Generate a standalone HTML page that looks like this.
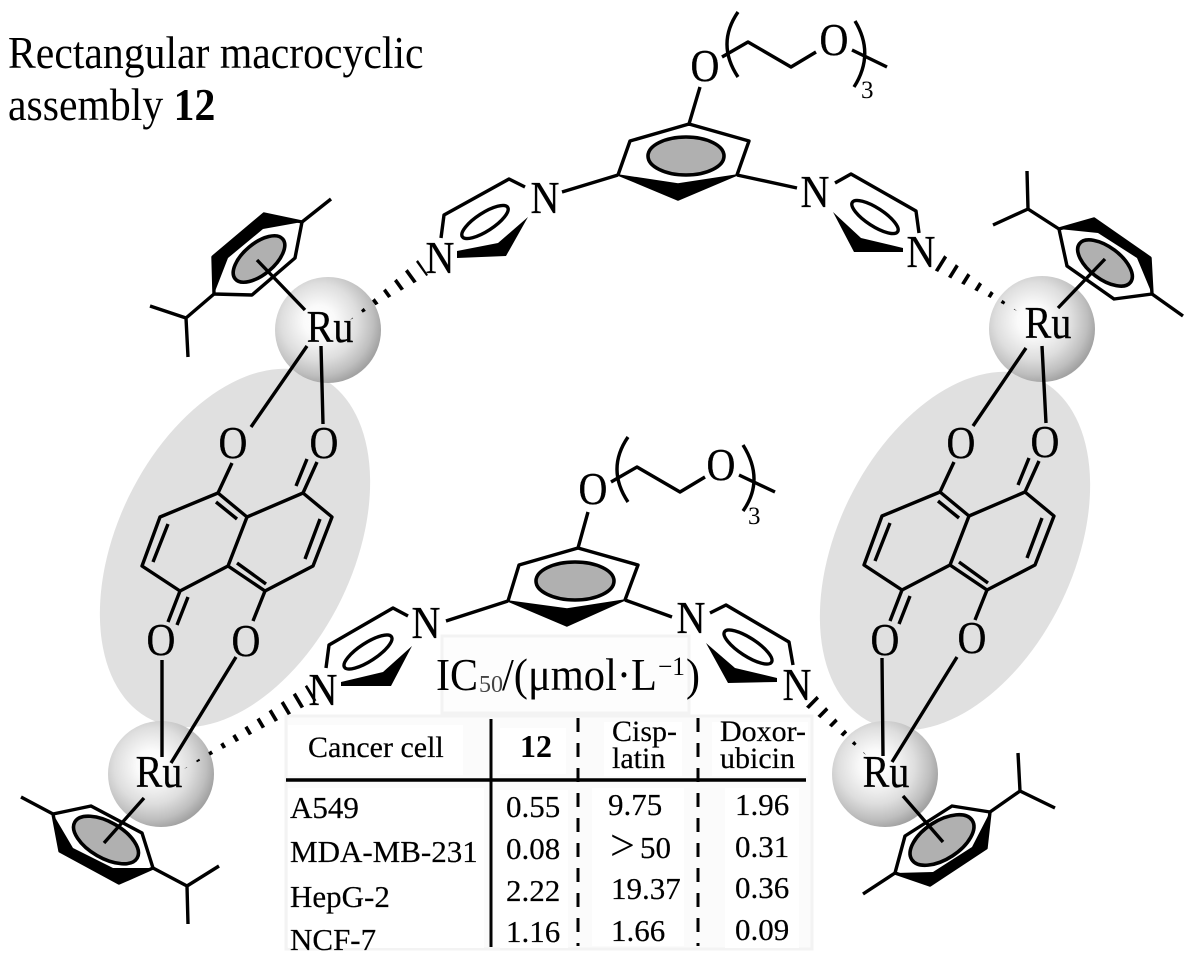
<!DOCTYPE html>
<html>
<head>
<meta charset="utf-8">
<title>Rectangular macrocyclic assembly 12</title>
<style>
html,body{margin:0;padding:0;background:#fff;}
svg{display:block;}
text{font-family:"Liberation Serif","DejaVu Serif",serif;fill:#000;}
.a{font-size:40px;text-anchor:middle;stroke:#000;stroke-width:.3;}
.t{font-size:30px;stroke:#000;stroke-width:.2;}
.v{font-size:31px;stroke:#000;stroke-width:.2;}
.l{fill:none;stroke:#000;stroke-width:3.4;stroke-linejoin:round;stroke-linecap:butt;}
.g{fill:#b0b0b0;stroke:#000;stroke-width:3.6;}
.w{fill:#fff;stroke:#000;stroke-width:3.4;}
.h{fill:none;stroke:#000;stroke-width:26;stroke-dasharray:3.6 11;}
</style>
</head>
<body>
<svg width="1193" height="963" viewBox="0 0 1193 963" xmlns="http://www.w3.org/2000/svg">
<defs>
<radialGradient id="s" cx="0.42" cy="0.42" r="0.6">
<stop offset="0" stop-color="#ffffff"/>
<stop offset="0.25" stop-color="#fafafa"/>
<stop offset="0.6" stop-color="#dedede"/>
<stop offset="0.85" stop-color="#bebebe"/>
<stop offset="1" stop-color="#a2a2a2"/>
</radialGradient>
<clipPath id="c1"><polygon points="184,769 317,700 307,685"/></clipPath>
<clipPath id="c2"><polygon points="350,320 428,275 418,260"/></clipPath>
<clipPath id="c3"><polygon points="1017,311 940,252 930,268"/></clipPath>
<clipPath id="c4"><polygon points="866,755 811,689 799,701"/></clipPath>
</defs>
<rect width="1193" height="963" fill="#fff"/>

<!-- grey ellipses -->
<ellipse cx="235" cy="548" rx="118" ry="191" transform="rotate(26 235 548)" fill="#e0e0e0"/>
<ellipse cx="955" cy="551" rx="118" ry="191" transform="rotate(26 955 551)" fill="#e0e0e0"/>

<!-- spheres -->
<circle cx="328" cy="330" r="53" fill="url(#s)"/>
<circle cx="1042" cy="329" r="53" fill="url(#s)"/>
<circle cx="161" cy="774" r="53" fill="url(#s)"/>
<circle cx="885" cy="774" r="53" fill="url(#s)"/>

<!-- table backgrounds -->
<rect x="442" y="636" width="247" height="77" fill="#fdfdfd" stroke="#f3f3f3" stroke-width="3"/>
<rect x="286" y="716" width="526" height="233" fill="#fbfbfb" stroke="#f3f3f3" stroke-width="3"/>
<rect x="288" y="725" width="175" height="50" fill="#fff"/>
<rect x="500" y="728" width="66" height="46" fill="#fff"/>
<rect x="604" y="722" width="78" height="54" fill="#fff"/>
<rect x="712" y="722" width="96" height="54" fill="#fff"/>
<rect x="288" y="788" width="196" height="160" fill="#fff"/>
<rect x="500" y="790" width="68" height="158" fill="#fff"/>
<rect x="592" y="788" width="92" height="158" fill="#fff"/>
<rect x="725" y="788" width="74" height="160" fill="#fff"/>

<!-- top bridging ligand -->
<polyline class="l" points="618,175 630,141 689,124 749,141 737,175"/>
<polygon points="618,175 678,184 737,175 678,200" fill="#000" stroke="#000" stroke-width="1.5" stroke-linejoin="round"/>
<ellipse class="g" cx="686" cy="156" rx="38" ry="19"/>
<path class="l" d="M700,87 L689,124 M618,175 L562,192 M737,175 L797,188"/>
<path class="l" d="M722,57 L748,42 L791,67 L816,52 M852,50 L887,67"/>
<path class="l" d="M738,12 Q716,44 738,77 M855,21 Q875,54 854,87"/>
<text class="a" transform="translate(705,81) scale(1,1.15)">O</text>
<text class="a" transform="translate(834,55) scale(1,1.15)">O</text>
<text x="861" y="98" font-size="25">3</text>

<path class="l" d="M525,187 L509,179 L444,215 L441,238"/>
<polygon points="457,251 498,243 528,217 506,256 457,258" fill="#000"/>
<ellipse class="w" cx="485" cy="222" rx="27" ry="9" transform="rotate(-33 485 222)"/>
<text class="a" transform="translate(545,213) scale(1,1.15)">N</text>
<text class="a" transform="translate(440,273) scale(1,1.15)">N</text>

<path class="l" d="M835,183 L851,174 L916,211 L919,233"/>
<polygon points="833,212 861,238 903,248 903,252 854,252" fill="#000"/>
<ellipse class="w" cx="875" cy="217" rx="27" ry="9" transform="rotate(33 875 217)"/>
<text class="a" transform="translate(815,207) scale(1,1.15)">N</text>
<text class="a" transform="translate(921,267) scale(1,1.15)">N</text>

<!-- bottom bridging ligand -->
<polyline class="l" points="508,601 519,565 578,548 638,565 625,600"/>
<polygon points="508,601 567,609 625,600 567,626" fill="#000" stroke="#000" stroke-width="1.5" stroke-linejoin="round"/>
<ellipse class="g" cx="575" cy="581" rx="39" ry="19"/>
<path class="l" d="M588,512 L578,548 M508,601 L446,621 M625,600 L672,617"/>
<path class="l" d="M611,482 L637,467 L680,492 L705,477 M739,475 L775,492"/>
<path class="l" d="M628,437 Q606,469 628,502 M743,445 Q765,480 743,511"/>
<text class="a" transform="translate(593,504) scale(1,1.15)">O</text>
<text class="a" transform="translate(721,480) scale(1,1.15)">O</text>
<text x="748" y="524" font-size="25">3</text>

<path class="l" d="M408,616 L393,608 L329,645 L326,668"/>
<polygon points="341,682 383,672 412,646 391,686 341,686" fill="#000"/>
<ellipse class="w" cx="368" cy="652" rx="28" ry="9" transform="rotate(-33 368 652)"/>
<text class="a" transform="translate(426,638) scale(1,1.15)">N</text>
<text class="a" transform="translate(323,705) scale(1,1.15)">N</text>

<path class="l" d="M710,613 L726,605 L789,642 L793,665"/>
<polygon points="706,643 735,668 777,678 777,682 728,683" fill="#000"/>
<ellipse class="w" cx="748" cy="647" rx="28" ry="9" transform="rotate(33 748 647)"/>
<text class="a" transform="translate(691,633) scale(1,1.15)">N</text>
<text class="a" transform="translate(797,700) scale(1,1.15)">N</text>

<!-- left quinone -->
<g>
<polygon class="l" points="218,493 160,517 142,566 180,591 228,566 247,517"/>
<path class="l" d="M247,517 L303,493 L332,517 L313,566 L265,591 L228,566"/>
<path class="l" d="M168,524 L153,562 M320,519 L305,559 M216,502 L237,519 M237,563 L266,584"/>
<path class="l" d="M232,463 L218,493 M303,493 L317,462 M296,486 L307,459 M180,591 L168,622 M188,597 L177,625 M265,591 L253,621"/>
</g>
<!-- right quinone -->
<g transform="translate(722,-1)">
<polygon class="l" points="218,493 160,517 142,566 180,591 228,566 247,517"/>
<path class="l" d="M247,517 L303,493 L332,517 L313,566 L265,591 L228,566"/>
<path class="l" d="M168,524 L153,562 M320,519 L305,559 M216,502 L237,519 M237,563 L266,584"/>
<path class="l" d="M232,463 L218,493 M303,493 L317,462 M296,486 L307,459 M180,591 L168,622 M188,597 L177,625 M265,591 L253,621"/>
</g>
<text class="a" transform="translate(233,458) scale(1,1.15)">O</text>
<text class="a" transform="translate(324,458) scale(1,1.15)">O</text>
<text class="a" transform="translate(161,655) scale(1,1.15)">O</text>
<text class="a" transform="translate(246,656) scale(1,1.15)">O</text>
<text class="a" transform="translate(961,458) scale(1,1.15)">O</text>
<text class="a" transform="translate(1045,457) scale(1,1.15)">O</text>
<text class="a" transform="translate(885,655) scale(1,1.15)">O</text>
<text class="a" transform="translate(972,653) scale(1,1.15)">O</text>

<!-- Ru–O bonds -->
<path class="l" d="M307,346 L251,427 M321,346 L323,424"/>
<path class="l" d="M1026,348 L973,426 M1042,346 L1046,423"/>
<path class="l" d="M162,660 L162,757 M236,657 L171,763"/>
<path class="l" d="M882,658 L883,756 M957,657 L892,762"/>

<!-- cymene top-left -->
<polygon class="l" points="302,222 295,258 252,295 214,294 213,257 264,214"/>
<polygon points="214,294 228,258 263,229 302,222 264,214 213,257" fill="#000"/>
<ellipse class="g" cx="259" cy="259" rx="31" ry="15.5" transform="rotate(-40 259 259)"/>
<path class="l" d="M302,222 L331,199 M214,294 L186,318 L150,306 M186,318 L188,357 M257,260 L305,310"/>

<!-- cymene top-right -->
<polygon class="l" points="1059,229 1094,219 1150,258 1152,294 1114,299 1067,266"/>
<polygon points="1059,229 1098,233 1137,258 1152,294 1150,258 1094,219" fill="#000"/>
<ellipse class="g" cx="1105" cy="263" rx="32" ry="16" transform="rotate(37 1105 263)"/>
<path class="l" d="M1152,294 L1183,316 M1059,229 L1028,209 L1027,171 M1028,209 L993,225 M1105,259 L1058,308"/>

<!-- cymene bottom-left -->
<polygon class="l" points="53,814 91,806 142,833 153,868 119,883 60,851"/>
<polygon points="53,814 73,848 113,868 153,868 119,883 60,851" fill="#000"/>
<ellipse class="g" cx="106" cy="840" rx="36" ry="18" transform="rotate(30 106 840)"/>
<path class="l" d="M53,814 L21,797 M153,868 L187,886 L219,866 M187,886 L188,924 M144,798 L104,843"/>

<!-- cymene bottom-right -->
<polygon class="l" points="895,873 905,836 952,806 990,812 986,848 930,885"/>
<polygon points="895,873 933,872 972,847 990,812 986,848 930,885" fill="#000"/>
<ellipse class="g" cx="942" cy="840" rx="36" ry="19" transform="rotate(-33 942 840)"/>
<path class="l" d="M895,873 L863,894 M990,812 L1020,791 L1018,753 M1020,791 L1055,808 M903,796 L943,842"/>

<!-- hashed bonds -->
<g clip-path="url(#c1)"><line class="h" x1="184" y1="769" x2="312" y2="693"/></g>
<g clip-path="url(#c2)"><line class="h" x1="350" y1="320" x2="423" y2="267"/></g>
<g clip-path="url(#c3)"><line class="h" x1="1017" y1="311" x2="935" y2="260"/></g>
<g clip-path="url(#c4)"><line class="h" x1="866" y1="755" x2="805" y2="695"/></g>

<!-- Ru labels -->
<text class="a" transform="translate(330,342) scale(1,1.15)">Ru</text>
<text class="a" transform="translate(1048,338) scale(1,1.15)">Ru</text>
<text class="a" transform="translate(159,787) scale(1,1.15)">Ru</text>
<text class="a" transform="translate(886,787) scale(1,1.15)">Ru</text>

<!-- title -->
<text transform="translate(8,68) scale(1,1.1)" font-size="41.7">Rectangular macrocyclic</text>
<text transform="translate(8,120) scale(1,1.1)" font-size="41.7">assembly <tspan font-weight="bold">12</tspan></text>

<!-- IC50 heading -->
<text transform="translate(436,690) scale(1,1.08)" font-size="42">IC</text>
<text x="479" y="692" font-size="24" style="fill:#444">50</text>
<text transform="translate(502,690) scale(1,1.08)" font-size="42" textLength="155" lengthAdjust="spacingAndGlyphs">/(μmol·L</text>
<text x="658" y="675" font-size="26" textLength="27" lengthAdjust="spacingAndGlyphs">−1</text>
<text transform="translate(686,690) scale(1,1.08)" font-size="42">)</text>

<!-- table rules -->
<line x1="286" y1="780" x2="806" y2="780" stroke="#000" stroke-width="3.5"/>
<line x1="491" y1="719" x2="491" y2="947" stroke="#000" stroke-width="3"/>
<line x1="578" y1="718" x2="578" y2="946" stroke="#000" stroke-width="3" stroke-dasharray="14 11"/>
<line x1="698" y1="718" x2="698" y2="946" stroke="#000" stroke-width="3" stroke-dasharray="14 11"/>

<!-- table text -->
<text class="t" x="308" y="757">Cancer cell</text>
<text x="520" y="757" font-size="32" font-weight="bold">12</text>
<text class="t" x="612" y="741">Cisp-</text>
<text class="t" x="612" y="768">latin</text>
<text class="t" x="720" y="741">Doxor-</text>
<text class="t" x="720" y="768">ubicin</text>

<text class="v" x="290" y="818">A549</text>
<text class="v" x="290" y="862">MDA-MB-231</text>
<text class="v" x="290" y="907">HepG-2</text>
<text class="v" x="290" y="950">NCF-7</text>

<text class="v" x="506" y="817">0.55</text>
<text class="v" x="506" y="859">0.08</text>
<text class="v" x="506" y="901">2.22</text>
<text class="v" x="506" y="942">1.16</text>

<text class="v" x="608" y="815">9.75</text>
<text x="610" y="860" font-size="44">&gt;</text>
<text class="v" x="640" y="858">50</text>
<text class="v" x="611" y="899">19.37</text>
<text class="v" x="611" y="941">1.66</text>

<text class="v" x="735" y="815">1.96</text>
<text class="v" x="735" y="857">0.31</text>
<text class="v" x="735" y="898">0.36</text>
<text class="v" x="735" y="940">0.09</text>
</svg>
</body>
</html>
